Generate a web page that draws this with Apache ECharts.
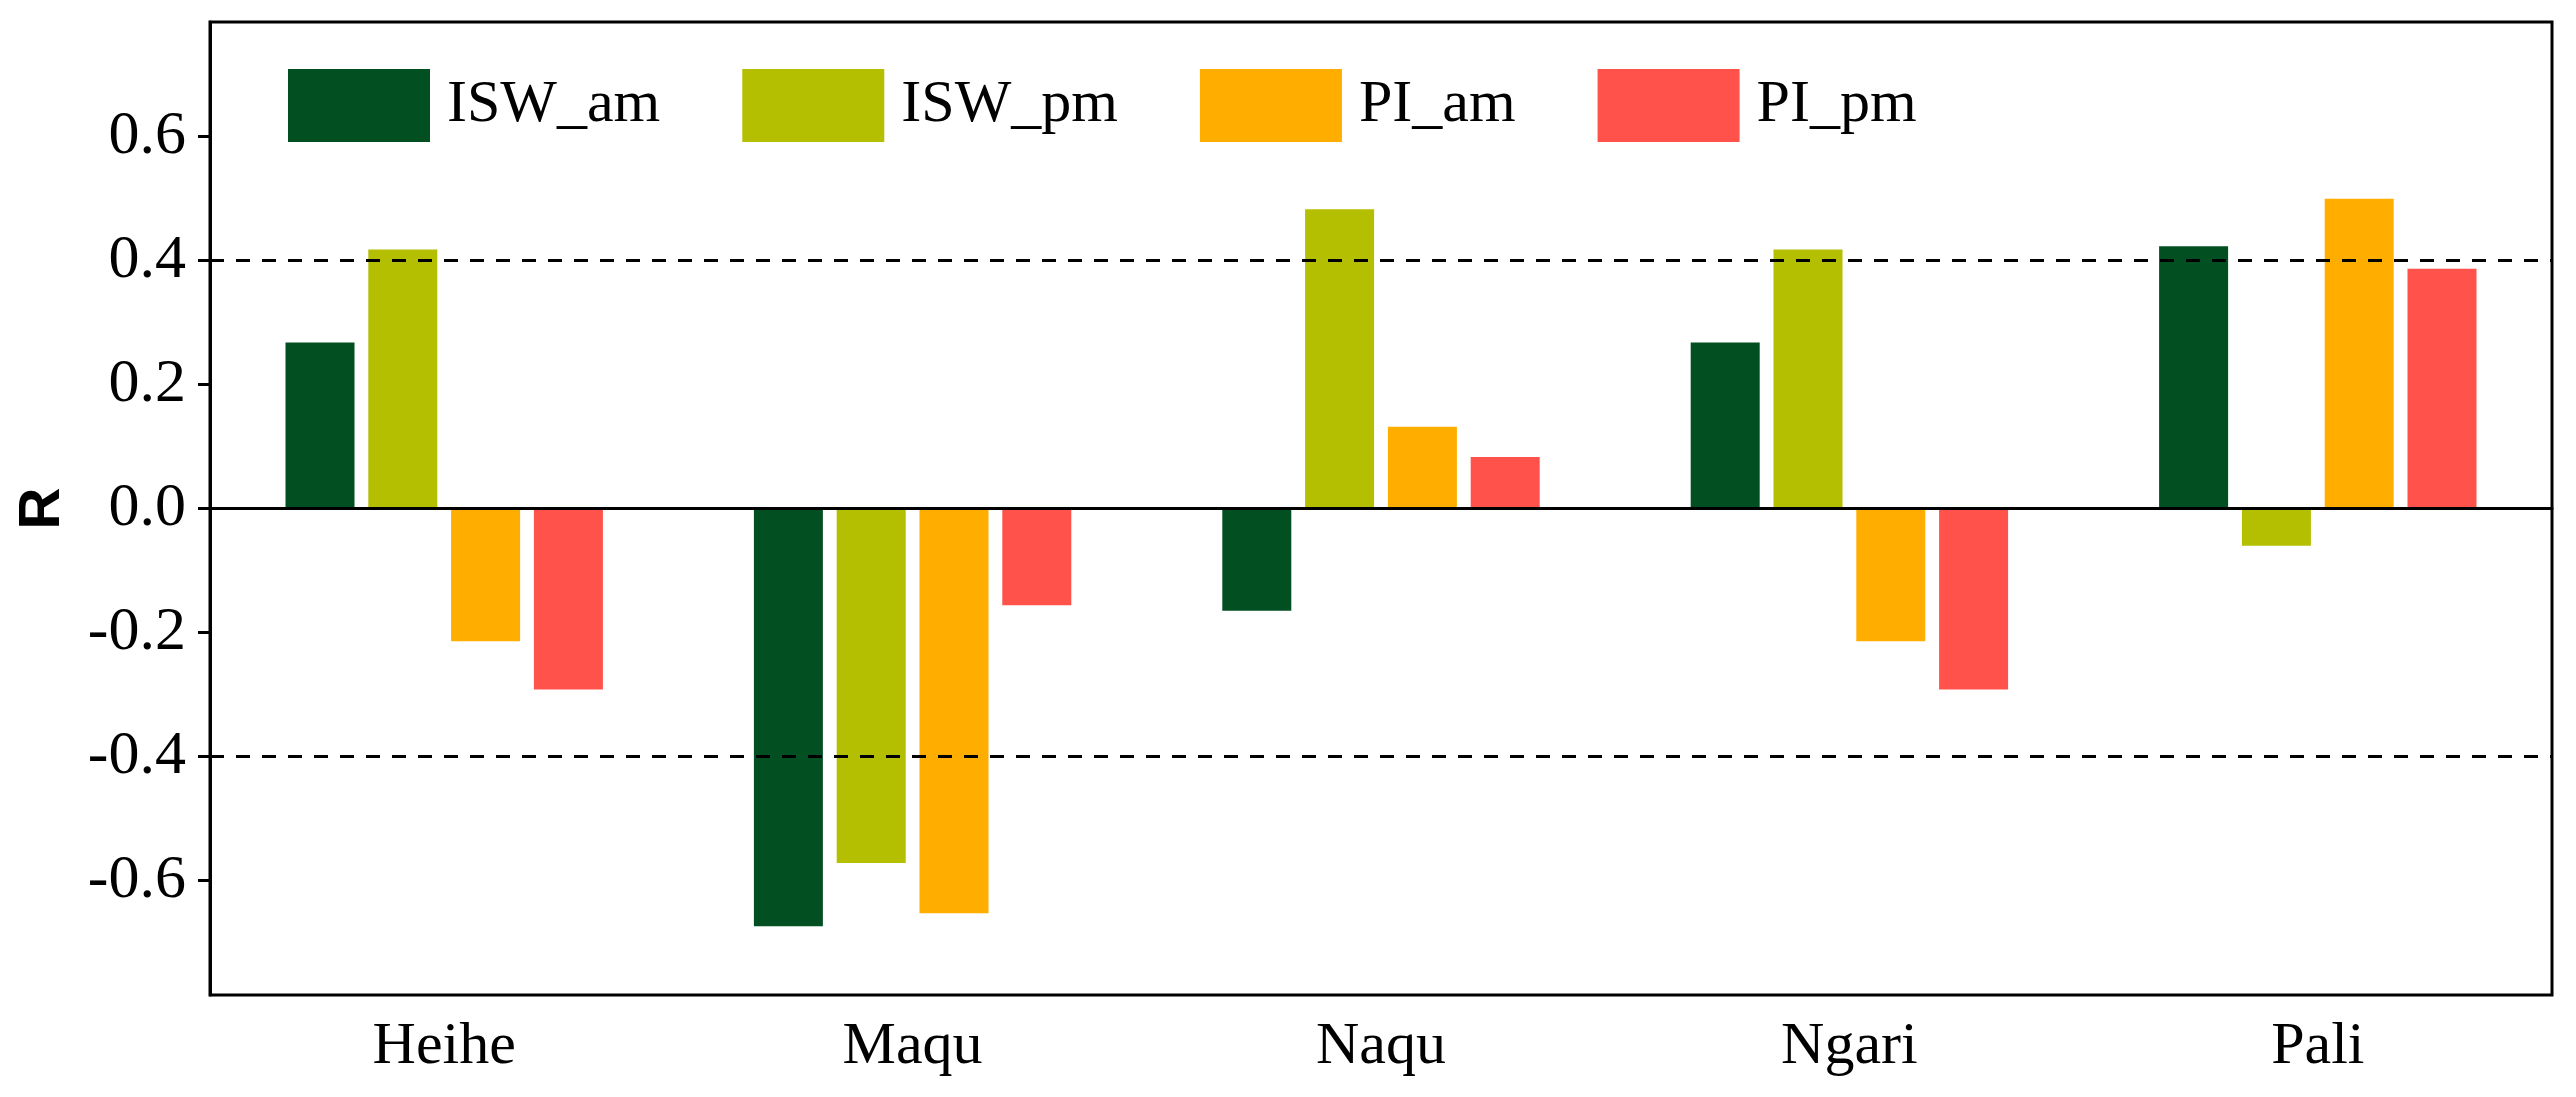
<!DOCTYPE html>
<html>
<head>
<meta charset="utf-8">
<script src="https://cdn.jsdelivr.net/npm/echarts@6/dist/echarts.min.js"></script>
<style>html,body{margin:0;padding:0;background:#fff;}#c{width:2576px;height:1097px;}</style>
</head>
<body>
<div id="c"></div>
<script>
const categories = ['Heihe', 'Maqu', 'Naqu', 'Ngari', 'Pali'];
const seriesNames = ['ISW_am', 'ISW_pm', 'PI_am', 'PI_pm'];
const ISW_am = [0.268, -0.674, -0.165, 0.268, 0.423];
const ISW_pm = [0.418, -0.572, 0.483, 0.418, -0.060];
const PI_am = [-0.214, -0.653, 0.132, -0.214, 0.500];
const PI_pm = [-0.292, -0.156, 0.083, -0.292, 0.387];
const yTicks = [-0.6, -0.4, -0.2, 0.0, 0.2, 0.4, 0.6];
const refLines = [-0.4, 0.4];
const colors = ['#024F22', '#B3BF00', '#FFAE00', '#FF524A'];

const chart = echarts.init(document.getElementById('c'));
const values = [ISW_am, ISW_pm, PI_am, PI_pm];
const serif = 'Liberation Serif';

const series = values.map((d, i) => ({
  name: seriesNames[i],
  type: 'bar',
  data: d,
  barWidth: 69,
  barGap: '20%',
  itemStyle: { color: colors[i] },
  markLine: i === 0 ? {
    silent: true,
    symbol: 'none',
    label: { show: false },
    data: [
      ...refLines.map(v => ({ yAxis: v, lineStyle: { type: [14, 12], color: '#000', width: 3 } })),
      { yAxis: 0, lineStyle: { type: 'solid', color: '#000', width: 3 } }
    ]
  } : undefined
}));

chart.setOption({
  backgroundColor: '#fff',
  animation: false,
  grid: { left: 210, right: 24, top: 22, bottom: 102, show: true, borderColor: '#000', borderWidth: 3, backgroundColor: 'transparent' },
  legend: {
    left: 283, top: 64,
    itemWidth: 142, itemHeight: 73, itemGap: 82,
    icon: 'rect',
    textStyle: { fontFamily: serif, fontSize: 60, color: '#000', padding: [0, 0, 0, 12] },
    data: seriesNames
  },
  xAxis: {
    type: 'category',
    data: categories,
    axisLine: { lineStyle: { color: '#000', width: 3 } },
    axisTick: { show: false },
    axisLabel: { fontFamily: serif, fontSize: 60, color: '#000', margin: 22 },
    splitLine: { show: false }
  },
  yAxis: {
    type: 'value',
    min: -0.785, max: 0.785,
    name: 'R',
    nameLocation: 'middle',
    nameGap: 138,
    nameTextStyle: { fontFamily: 'Liberation Sans', fontWeight: 'bold', fontSize: 58, color: '#000' },
    axisLine: { show: true, lineStyle: { color: '#000', width: 3 } },
    axisTick: { show: true, customValues: yTicks, length: 12, lineStyle: { color: '#000', width: 3 } },
    axisLabel: { customValues: yTicks, fontFamily: serif, fontSize: 62, color: '#000', margin: 24,
      formatter: v => (Math.abs(v) < 1e-9 ? 0 : v).toFixed(1) },
    splitLine: { show: false }
  },
  series: series
});
</script>
</body>
</html>
